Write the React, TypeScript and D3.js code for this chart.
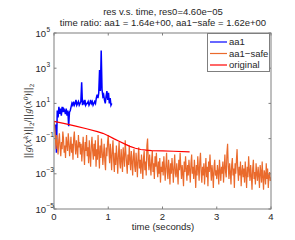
import * as d3 from "d3";
import { useEffect, useRef } from "react";

// log10 of ||g(x^k)|| / ||g(x^0)||
const aa1Times = [
    0.03, 0.045, 0.06, 0.075, 0.09, 0.105, 0.12, 0.135, 0.15, 0.165,
    0.18, 0.195, 0.21, 0.225, 0.24, 0.255, 0.27, 0.285, 0.3, 0.315,
    0.33, 0.345, 0.36, 0.375, 0.39, 0.405, 0.42, 0.435, 0.45, 0.465,
    0.48, 0.495, 0.51, 0.525, 0.54, 0.555, 0.57, 0.585, 0.6, 0.615,
    0.63, 0.645, 0.66, 0.675, 0.69, 0.705, 0.72, 0.735, 0.75, 0.765,
    0.78, 0.795, 0.81, 0.825, 0.84, 0.855, 0.87, 0.885, 0.9, 0.915,
    0.93, 0.945, 0.96, 0.975, 0.99, 1.005, 1.02, 1.035, 1.05, 1.065,
];
const aa1Exp = [
    -0.2, -1.8, 0.6, 0.2, 0.8, 0.4, 0.7, 0.3, 0.8, 0.5,
    0.7, 0.6, 0.4, 0.7, 0.3, 0.6, -0.3, 0.5, 0.6, 0.8,
    1.0, 0.9, 1.1, 0.9, 1.0, 1.2, 0.9, 1.0, 1.1, 0.9,
    1.0, 1.1, 2.2, 0.9, 1.1, 1.0, 1.2, 0.9, 1.0, 1.0,
    1.1, 0.9, 1.0, 1.2, 1.0, 1.1, 0.9, 1.0, 1.1, 1.0,
    1.3, 1.5, 1.3, 1.6, 2.9, 1.7, 4.0, 1.8, 1.4, 1.5,
    1.2, 1.0, 1.4, 1.7, 1.2, 1.6, 1.0, 1.3, 0.9, 1.0,
];

// aa1-safe, one value every 0.0125 s from 0 to 4
const safeStep = 0.0125;
const safeExp = [
    0, -0.3, -0.9, -1.6, -0.8, -1.3, -1.9, -1.1, -0.7, -1.5, -2.0, -1.2, -1.6, -0.6, -1.0, -1.8, -1.4, -2.1, -0.9, -1.3,
    -1.7, -0.7, -1.2, -2.0, -1.5, -0.9, -1.8, -1.3, -2.2, -1.0, -0.6, -1.4, -1.9, -1.1, -1.6, -2.1, -0.8, -1.5, -1.2, -1.9,
    -1.3, -2.3, -1.6, -0.9, -1.8, -2.5, -1.2, -1.7, -0.8, -2.0, -1.5, -2.4, -1.1, -1.9, -2.6, -1.4, -0.9, -1.7, -2.2, -1.3,
    -2.0, -1.1, -2.6, -1.6, -2.2, -0.8, -1.8, -2.7, -1.4, -2.1, -1.0, -1.7, -2.5, -1.9, -1.3, -2.3, -2.8, -1.5, -2.0, -1.2,
    -0.8, -1.7, -2.4, -1.3, -2.0, -2.8, -1.6, -1.1, -2.3, -2.9, -1.8, -2.5, -1.4, -2.1, -3.0, -1.9, -1.2, -2.4, -2.7, -1.6,
    -2.2, -2.9, -1.5, -2.0, -2.6, -1.1, -1.8, -2.4, -3.0, -1.9, -2.5, -1.4, -2.2, -2.8, -1.7, -2.3, -3.1, -2.0, -1.6, -2.6,
    -2.9, -1.8, -2.4, -3.2, -2.0, -1.5, -2.7, -2.2, -3.0, -1.9, -2.5, -3.3, -2.1, -1.7, -2.8, -2.3, -3.1, -1.4, -1.0, -2.2,
    -2.8, -1.9, -2.5, -3.1, -2.2, -1.7, -2.9, -2.4, -3.3, -2.0, -2.6, -1.8, -2.7, -3.2, -2.3, -3.0, -2.1, -3.5, -2.6, -2.9,
    -2.3, -3.1, -2.0, -2.7, -3.4, -2.5, -1.8, -2.9, -3.3, -2.2, -2.8, -3.6, -2.4, -3.0, -2.1, -2.7, -3.5, -2.6, -1.9, -3.0,
    -3.2, -2.4, -2.9, -3.6, -2.2, -2.8, -1.8, -2.6, -3.3, -2.5, -3.0, -3.7, -2.3, -2.9, -2.0, -2.7, -3.4, -2.5, -3.1, -2.2,
    -2.8, -3.5, -2.4, -1.9, -3.0, -2.6, -3.3, -2.2, -2.9, -3.8, -2.5, -3.1, -2.0, -2.7, -3.4, -2.3, -1.8, -2.9, -3.5, -2.6,
    -3.1, -2.4, -3.6, -2.8, -2.1, -3.2, -2.6, -3.7, -2.3, -2.9, -1.9, -2.7, -3.4, -2.5, -3.0, -3.8, -2.6, -2.2, -3.1, -2.8,
    -3.3, -2.5, -2.9, -3.6, -2.2, -2.8, -3.4, -2.6, -3.0, -2.3, -3.5, -2.7, -1.9, -2.9, -3.2, -1.8, -1.3, -2.6, -3.3, -2.4,
    -2.9, -3.6, -2.5, -2.1, -3.1, -2.7, -3.8, -2.4, -3.0, -2.2, -1.6, -2.8, -3.4, -2.6, -3.1, -2.3, -3.7, -2.9, -2.5, -3.2,
    -2.7, -3.5, -2.3, -3.0, -3.8, -2.6, -3.2, -2.0, -2.8, -3.4, -2.5, -3.1, -3.9, -2.7, -2.2, -3.3, -2.9, -3.6, -2.4, -3.0,
    -3.4, -2.6, -3.1, -3.8, -2.5, -2.9, -3.5, -2.3, -3.2, -3.9, -2.8, -3.0, -3.6, -2.4, -3.3, -2.7, -3.8, -3.1, -2.9, -3.4,
    -3.2,
];

const origTimes = [0, 0.2, 0.4, 0.6, 0.8, 0.9, 1.0, 1.1, 1.2, 1.3, 1.4, 1.5, 1.6, 1.7, 1.8, 2.0, 2.2, 2.5];
const origExp = [-0.02, -0.15, -0.29, -0.44, -0.6, -0.7, -0.84, -1.0, -1.15, -1.3, -1.44, -1.55, -1.62, -1.66, -1.68, -1.7, -1.72, -1.75];

const xTicks = [0, 1, 2, 3, 4];
const yTickExps = [-5, -3, -1, 1, 3, 5];
const legendNames = ["aa1", "aa1\u2212safe", "original"];
const legendColors = ["#0000ff", "#ea6a2c", "#ff0000"];

function drawChart(svgEl: SVGSVGElement) {
    const width = 295;
    const height = 240;
    const left = 54, right = 271, top = 33, bottom = 209;
    const axisColor = "#7f7f7f";
    const font = "'Liberation Sans', Arial, sans-serif";

    const svg = d3.select(svgEl).attr("width", width).attr("height", height);
    svg.selectAll("*").remove();

    const x = d3.scaleLinear().domain([0, 4]).range([left, right]);
    const y = d3.scaleLog().domain([1e-5, 1e5]).range([bottom, top]);

    svg.append("rect").attr("width", width).attr("height", height).attr("fill", "#fff");

    const clip = svg.append("clipPath").attr("id", "plotclip");
    clip.append("rect").attr("x", left).attr("y", top).attr("width", right - left).attr("height", bottom - top);
    const plot = svg.append("g").attr("clip-path", "url(#plotclip)");

    const line = d3.line<[number, number]>()
        .x(d => x(d[0]))
        .y(d => y(Math.pow(10, d[1])));

    const safeData: [number, number][] = safeExp.map((e, i) => [i * safeStep, e]);
    const aa1Data: [number, number][] = aa1Exp.map((e, i) => [aa1Times[i], e]);
    const origData: [number, number][] = origExp.map((e, i) => [origTimes[i], e]);

    plot.append("path").datum(aa1Data).attr("d", line)
        .attr("fill", "none").attr("stroke", legendColors[0]).attr("stroke-width", 1.5);
    plot.append("path").datum(safeData).attr("d", line)
        .attr("fill", "none").attr("stroke", legendColors[1]).attr("stroke-width", 1.2);
    plot.append("path").datum(origData).attr("d", line)
        .attr("fill", "none").attr("stroke", legendColors[2]).attr("stroke-width", 1.2);

    // box
    svg.append("rect")
        .attr("x", left).attr("y", top).attr("width", right - left).attr("height", bottom - top)
        .attr("fill", "none").attr("stroke", axisColor).attr("stroke-width", 1);

    // x ticks
    xTicks.forEach(t => {
        const px = x(t);
        svg.append("line").attr("x1", px).attr("x2", px).attr("y1", bottom).attr("y2", bottom - 2.5)
            .attr("stroke", axisColor);
        svg.append("line").attr("x1", px).attr("x2", px).attr("y1", top).attr("y2", top + 2.5)
            .attr("stroke", axisColor);
        svg.append("text").attr("x", px).attr("y", 220)
            .attr("text-anchor", "middle").attr("font-family", font).attr("font-size", 9.5)
            .attr("fill", "#262626").text(t);
    });

    // y ticks
    yTickExps.forEach(e => {
        const py = y(Math.pow(10, e));
        svg.append("line").attr("x1", left).attr("x2", left + 2.5).attr("y1", py).attr("y2", py)
            .attr("stroke", axisColor);
        svg.append("line").attr("x1", right).attr("x2", right - 2.5).attr("y1", py).attr("y2", py)
            .attr("stroke", axisColor);
        svg.append("text").attr("x", 46).attr("y", py + 3.5)
            .attr("text-anchor", "end").attr("font-family", font).attr("font-size", 9.5)
            .attr("fill", "#262626").text("10");
        svg.append("text").attr("x", 46.5).attr("y", py - 1.5)
            .attr("font-family", font).attr("font-size", 6.5)
            .attr("fill", "#262626").text(String(e).replace("-", "\u2212"));
    });

    // title
    svg.append("text").attr("x", 163).attr("y", 14.5)
        .attr("text-anchor", "middle").attr("font-family", font).attr("font-size", 9.5)
        .attr("fill", "#262626").text("res v.s. time, res0=4.60e\u221205");
    svg.append("text").attr("x", 163).attr("y", 25.5)
        .attr("text-anchor", "middle").attr("font-family", font).attr("font-size", 9.5)
        .attr("fill", "#262626").text("time ratio: aa1 = 1.64e+00, aa1\u2212safe = 1.62e+00");

    // x label
    svg.append("text").attr("x", 163).attr("y", 229.5)
        .attr("text-anchor", "middle").attr("font-family", font).attr("font-size", 9.5)
        .attr("fill", "#262626").text("time (seconds)");

    // y label
    const yl = svg.append("text")
        .attr("transform", "translate(31,121) rotate(-90)")
        .attr("text-anchor", "middle").attr("font-family", "'DejaVu Serif', 'Liberation Serif', serif")
        .attr("font-size", 8.5).attr("fill", "#262626");
    const parts: [string, string][] = [
        ["||", "n"], ["g", "i"], ["(", "n"], ["x", "i"], ["k", "sup"], [")||", "n"], ["2", "sub"],
        ["/||", "n"], ["g", "i"], ["(", "n"], ["x", "i"], ["0", "sup"], [")||", "n"], ["2", "sub"],
    ];
    let shift = 0;
    parts.forEach(([s, kind]) => {
        const ts = yl.append("tspan").text(s);
        let target = 0;
        if (kind === "i") ts.attr("font-style", "italic");
        if (kind === "sup") { target = -3.5; ts.attr("font-size", 6); ts.attr("font-style", "italic"); }
        if (kind === "sub") { target = 2.5; ts.attr("font-size", 6); }
        if (target !== shift) { ts.attr("dy", target - shift); shift = target; }
    });

    // legend
    const lg = svg.append("g");
    lg.append("rect").attr("x", 207.5).attr("y", 33.5).attr("width", 62).attr("height", 38)
        .attr("fill", "#fff").attr("stroke", axisColor);
    legendNames.forEach((name, i) => {
        const ly = 42 + i * 11.5;
        lg.append("line").attr("x1", 210).attr("x2", 227).attr("y1", ly).attr("y2", ly)
            .attr("stroke", legendColors[i]).attr("stroke-width", 1.2);
        lg.append("text").attr("x", 229).attr("y", ly + 3.3)
            .attr("font-family", font).attr("font-size", 9.5).attr("fill", "#262626").text(name);
    });
}

export default function App() {
    const ref = useRef<SVGSVGElement>(null);
    useEffect(() => {
        if (ref.current) drawChart(ref.current);
    }, []);
    return <svg ref={ref} style={{ position: "absolute", left: 0, top: 0 }} />;
}
